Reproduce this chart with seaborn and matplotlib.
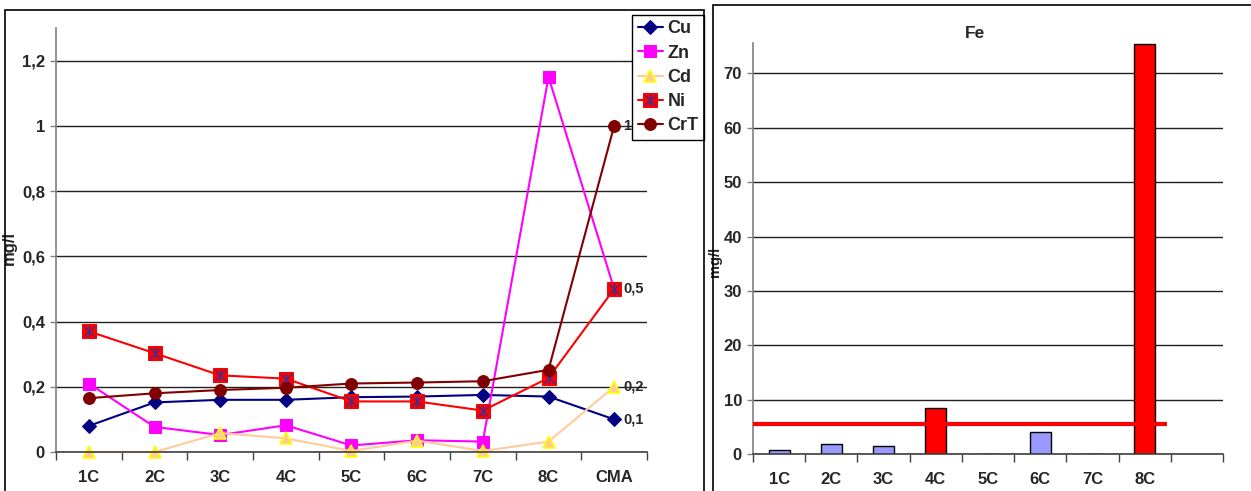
import numpy as np
import matplotlib
matplotlib.use("Agg")
import matplotlib.pyplot as plt
import seaborn as sns
from matplotlib.path import Path
from matplotlib.patches import Rectangle
from matplotlib.legend_handler import HandlerTuple

# ---- data ---------------------------------------------------------------
stations = ["1C", "2C", "3C", "4C", "5C", "6C", "7C", "8C", "CMA"]
cu = [0.08, 0.152, 0.16, 0.16, 0.168, 0.17, 0.175, 0.17, 0.1]
zn = [0.21, 0.077, 0.052, 0.082, 0.02, 0.036, 0.032, 1.15, 0.5]
cd = [0.0, 0.0, 0.058, 0.042, 0.003, 0.035, 0.003, 0.032, 0.2]
ni = [0.37, 0.303, 0.235, 0.225, 0.155, 0.155, 0.127, 0.227, 0.5]
crt = [0.165, 0.18, 0.19, 0.197, 0.21, 0.213, 0.217, 0.252, 1.0]
cma_labels = {"CrT": "1", "Ni": "0,5", "Cd": "0,2", "Cu": "0,1"}

fe_stations = ["1C", "2C", "3C", "4C", "5C", "6C", "7C", "8C"]
fe = [0.8, 1.9, 1.4, 8.5, 0.0, 4.0, 0.0, 75.4]
fe_limit = 5.5
left_ticks = [0, 0.2, 0.4, 0.6, 0.8, 1.0, 1.2]
left_tick_labels = ["0", "0,2", "0,4", "0,6", "0,8", "1", "1,2"]
right_ticks = [0, 10, 20, 30, 40, 50, 60, 70]

# ---- style --------------------------------------------------------------
sns.set_theme(style="white")
plt.rcParams["font.family"] = ["Liberation Sans", "DejaVu Sans"]
plt.rcParams["font.weight"] = "bold"

W, H = 1251, 491
fig = plt.figure(figsize=(W / 100, H / 100), dpi=100)

def fx(px):
    return px / W

def fy(py):
    return 1 - py / H

# panel frames
fig.add_artist(Rectangle((fx(5), -0.05), fx(704) - fx(5), fy(10) + 0.05,
                         transform=fig.transFigure, fill=False, lw=1.2, ec="black"))
fig.add_artist(Rectangle((fx(713), -0.05), 0.5, fy(5) + 0.05,
                         transform=fig.transFigure, fill=False, lw=1.2, ec="black"))

# asterisk glyph for the Ni markers
star = Path([(-1, -1), (1, 1), (-1, 1), (1, -1), (0, -1.1), (0, 1.1)],
            [Path.MOVETO, Path.LINETO, Path.MOVETO, Path.LINETO, Path.MOVETO, Path.LINETO])

# ---- left panel: trace metals ---------------------------------------------
ax1 = fig.add_axes([fx(56), fy(452), fx(647) - fx(56), fy(28) - fy(452)])
x = np.arange(len(stations))

h_cu = sns.lineplot(x=x, y=cu, ax=ax1, color="#000080", lw=1.5, marker="D",
                    markersize=7, markeredgecolor="#000080", sort=False,
                    clip_on=False).lines[-1]
h_zn = sns.lineplot(x=x, y=zn, ax=ax1, color="#FF00FF", lw=1.5, marker="s",
                    markersize=8, markeredgecolor="#FF00FF", sort=False,
                    clip_on=False).lines[-1]
h_cd = sns.lineplot(x=x, y=cd, ax=ax1, color="#FFCC99", lw=1.5, marker="^",
                    markersize=9, markerfacecolor="#FFCC99", markeredgecolor="#FFFF00",
                    markeredgewidth=1.2, sort=False, clip_on=False).lines[-1]
h_ni = sns.lineplot(x=x, y=ni, ax=ax1, color="#FF0000", lw=1.5, marker="s",
                    markersize=9.5, markeredgecolor="#FF0000", sort=False,
                    clip_on=False).lines[-1]
h_nistar = ax1.plot(x, ni, ls="none", marker=star, markersize=8.5,
                    markeredgecolor="#333399", markeredgewidth=0.9, clip_on=False)[0]
h_crt = sns.lineplot(x=x, y=crt, ax=ax1, color="#800000", lw=1.5, marker="o",
                     markersize=8.5, markeredgecolor="#800000", sort=False,
                     clip_on=False).lines[-1]

series_vals = {"Cu": cu, "Zn": zn, "Cd": cd, "Ni": ni, "CrT": crt}
last = len(stations) - 1
for name, txt in cma_labels.items():
    ax1.annotate(txt, (last, series_vals[name][last]), xytext=(9, 0),
                 textcoords="offset pixels", ha="left", va="center",
                 fontsize=10.5, fontweight="bold")

ax1.set_xlim(-0.5, len(stations) - 0.5)
ax1.set_ylim(0, 1.3)
ax1.set_yticks(left_ticks)
ax1.set_yticklabels(left_tick_labels)
ax1.set_xticks(x)
ax1.set_xticklabels(stations)
ax1.set_xticks(np.arange(len(stations) + 1) - 0.5, minor=True)
ax1.yaxis.grid(True, color="#202020", lw=1)
ax1.set_axisbelow(True)
ax1.set_ylabel("mg/l", fontsize=12, fontweight="bold")
ax1.yaxis.set_label_coords(-0.066, 0.48)

ax1.legend([h_cu, h_zn, h_cd, (h_ni, h_nistar), h_crt], ["Cu", "Zn", "Cd", "Ni", "CrT"],
           handler_map={tuple: HandlerTuple(ndivide=1)},
           loc="upper right", bbox_to_anchor=(fx(704), fy(15)),
           bbox_transform=fig.transFigure, frameon=True, fancybox=False,
           edgecolor="black", framealpha=1, fontsize=13, handlelength=1.4,
           handletextpad=0.25, labelspacing=0.4, borderpad=0.3, borderaxespad=0)

# ---- right panel: iron ----------------------------------------------------
ax2 = fig.add_axes([fx(753), fy(454), fx(1223) - fx(753), fy(43) - fy(454)])
fe_colors = {s: ("#FF0000" if v > fe_limit else "#9999FF") for s, v in zip(fe_stations, fe)}
sns.barplot(x=fe_stations, y=fe, hue=fe_stations, palette=fe_colors, ax=ax2,
            width=0.4, edgecolor="black", linewidth=1, legend=False, saturation=1)
ax2.hlines(fe_limit, -0.5, 7.42, color="#FF0000", lw=3, zorder=4)

ax2.set_xlim(-0.5, 8.5)
ax2.set_ylim(0, 75.6)
ax2.set_yticks(right_ticks)
ax2.set_xticks(np.arange(len(fe_stations)))
ax2.set_xticklabels(fe_stations)
ax2.set_xticks(np.arange(10) - 0.5, minor=True)
ax2.yaxis.grid(True, color="#202020", lw=1)
ax2.set_axisbelow(True)
ax2.set_ylabel("mg/l", fontsize=10.5, fontweight="bold")
ax2.yaxis.set_label_coords(-0.066, 0.467)
ax2.text(0.472, 1.024, "Fe", transform=ax2.transAxes, ha="center", va="center",
         fontsize=12.5, fontweight="bold")

# ---- shared axis cosmetics ------------------------------------------------
for ax in (ax1, ax2):
    for side in ("top", "right"):
        ax.spines[side].set_visible(False)
    ax.spines["left"].set_color("#808080")
    ax.spines["left"].set_linewidth(1.2)
    ax.spines["bottom"].set_color("#404040")
    ax.spines["bottom"].set_linewidth(1.2)
    ax.tick_params(axis="y", which="major", left=True, length=4, width=1,
                   color="#808080", pad=4, labelsize=12)
    ax.tick_params(axis="x", which="major", bottom=False, length=0, pad=13, labelsize=12)
    ax.tick_params(axis="x", which="minor", bottom=True, length=6, width=1,
                   color="#404040", direction="out")
    for lbl in ax.get_xticklabels() + ax.get_yticklabels():
        lbl.set_fontweight("bold")

fig.savefig("out.png", dpi=100)
